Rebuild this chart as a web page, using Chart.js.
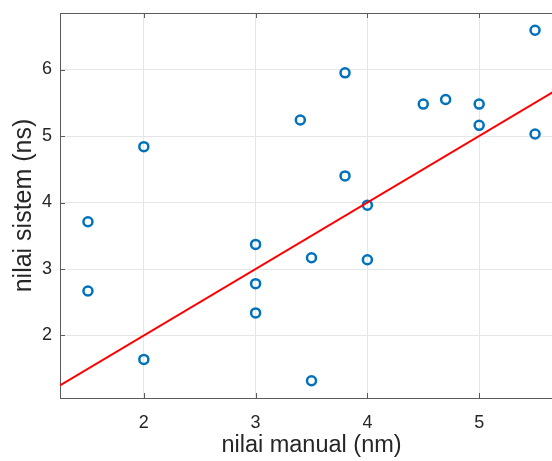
<!DOCTYPE html>
<html lang="id">
<head>
  <meta charset="UTF-8" />
  <title>nilai manual vs nilai sistem</title>
  <script src="https://cdn.jsdelivr.net/npm/chart.js"></script>
  <style>
    html, body {
      margin: 0;
      padding: 0;
      background: #fff;
      overflow: hidden;
    }
    #wrap {
      width: 600px;
      height: 461px;
    }
  </style>
</head>
<body>
  <div id="wrap">
    <canvas id="chart" width="600" height="461"></canvas>
  </div>

  <script>
    // data
    const manual = [1.5, 1.5, 2, 2, 3, 3, 3, 3.4, 3.5, 3.5, 3.8, 3.8, 4, 4, 4.5, 4.7, 5, 5, 5.5, 5.5];
    const sistem = [3.71, 2.67, 4.84, 1.64, 3.37, 2.78, 2.34, 5.24, 3.17, 1.32, 5.95, 4.40, 3.96, 3.14, 5.48, 5.55, 5.48, 5.16, 6.59, 5.03];
    // reference line y = x
    const lineX = [1.25, 5.75];
    const lineY = [1.25, 5.75];
    const xTicks = [2, 3, 4, 5];
    const yTicks = [2, 3, 4, 5, 6];

    const axisColor = "#5a5a5a";
    const textColor = "#262626";
    const font = "Arial, 'Liberation Sans', Helvetica, sans-serif";

    // box + inward tick marks like the original plot
    const boxTicks = {
      id: "boxTicks",
      afterDraw(chart) {
        const { ctx, chartArea: a, scales } = chart;
        ctx.save();
        ctx.strokeStyle = axisColor;
        ctx.lineWidth = 1;
        ctx.beginPath();
        ctx.moveTo(a.left, a.top + 0.5);
        ctx.lineTo(a.right, a.top + 0.5);
        ctx.moveTo(a.right - 0.5, a.top);
        ctx.lineTo(a.right - 0.5, a.bottom);
        xTicks.forEach(v => {
          const x = Math.round(scales.x.getPixelForValue(v)) + 0.5;
          ctx.moveTo(x, a.bottom);
          ctx.lineTo(x, a.bottom - 5);
          ctx.moveTo(x, a.top);
          ctx.lineTo(x, a.top + 5);
        });
        yTicks.forEach(v => {
          const y = Math.round(scales.y.getPixelForValue(v)) + 0.5;
          ctx.moveTo(a.left, y);
          ctx.lineTo(a.left + 5, y);
          ctx.moveTo(a.right, y);
          ctx.lineTo(a.right - 5, y);
        });
        ctx.stroke();
        ctx.restore();
      }
    };

    const noPad = s => {
      s.paddingTop = 0;
      s.paddingBottom = 0;
      s.paddingLeft = 0;
      s.paddingRight = 0;
    };

    new Chart(document.getElementById("chart"), {
      type: "scatter",
      data: {
        datasets: [
          {
            type: "line",
            data: lineX.map((x, i) => ({ x: x, y: lineY[i] })),
            borderColor: "#ff0000",
            borderWidth: 2,
            pointRadius: 0,
            fill: false
          },
          {
            data: manual.map((x, i) => ({ x: x, y: sistem[i] })),
            pointStyle: "circle",
            pointRadius: 4.5,
            borderWidth: 2.5,
            borderColor: "#0072bd",
            backgroundColor: "rgba(0,0,0,0)"
          }
        ]
      },
      options: {
        responsive: false,
        animation: false,
        layout: { padding: { top: 13, right: 37, bottom: 0, left: 0 } },
        plugins: {
          legend: { display: false },
          tooltip: { enabled: false }
        },
        scales: {
          x: {
            type: "linear",
            min: 1.25,
            max: 5.75,
            afterFit: s => { s.height = 63; noPad(s); },
            afterBuildTicks: s => { s.ticks = xTicks.map(v => ({ value: v })); },
            grid: { color: "#e6e6e6", drawTicks: false },
            border: { color: axisColor },
            ticks: {
              padding: 14,
              color: textColor,
              font: { family: font, size: 18 },
              callback: v => v
            },
            title: {
              display: true,
              text: "nilai manual (nm)",
              color: textColor,
              font: { family: font, size: 23.5 },
              padding: { top: 0, bottom: 1 }
            }
          },
          y: {
            type: "linear",
            min: 1.06,
            max: 6.85,
            afterFit: s => { s.width = 60; noPad(s); },
            afterBuildTicks: s => { s.ticks = yTicks.map(v => ({ value: v })); },
            grid: { color: "#e6e6e6", drawTicks: false },
            border: { color: axisColor },
            ticks: {
              padding: 8,
              color: textColor,
              font: { family: font, size: 18 },
              callback: v => v
            },
            title: {
              display: true,
              text: "nilai sistem (ns)",
              color: textColor,
              font: { family: font, size: 25 },
              padding: { top: 9, bottom: 0 }
            }
          }
        }
      },
      plugins: [boxTicks]
    });
  </script>
</body>
</html>
